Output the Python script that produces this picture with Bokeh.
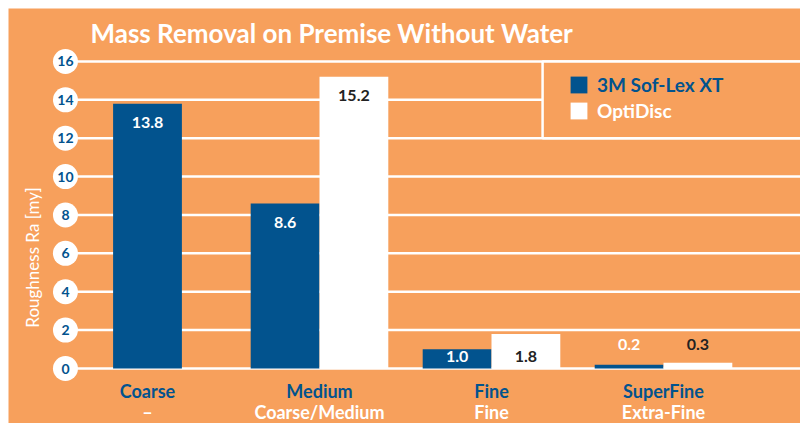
import math
from bokeh.plotting import figure
from bokeh.models import Range1d, Legend, LegendItem, Label, ColumnDataSource
from bokeh.core.properties import value
from bokeh.embed import file_html
from bokeh.resources import INLINE

# ---- data ----
categories = ["Coarse", "Medium", "Fine", "SuperFine"]
sub_labels = ["\u2013", "Coarse/Medium", "Fine", "Extra-Fine"]
soflex = [13.8, 8.6, 1.0, 0.2]
optidisc = [None, 15.2, 1.8, 0.3]
y_ticks = [0, 2, 4, 6, 8, 10, 12, 14, 16]

ORANGE = "#F7A05C"
BLUE = "#02538E"
DARK = "#222222"
FONT = "Lato"

p = figure(width=800, height=423, output_backend="svg", toolbar_location=None,
           x_axis_type=None, y_axis_type=None,
           x_range=Range1d(-0.8081, 3.7965), y_range=Range1d(-2.866, 18.76),
           min_border=0, min_border_left=8, min_border_right=0,
           min_border_top=8, min_border_bottom=0)
p.background_fill_color = ORANGE
p.border_fill_color = "white"
p.outline_line_color = None
p.grid.visible = False

# ---- grid lines ----
p.segment(x0=[-0.419] * len(y_ticks), y0=y_ticks, x1=[3.9] * len(y_ticks), y1=y_ticks,
          line_color="white", line_width=2.5)

# ---- tick bubbles ----
p.scatter(x=[-0.477] * len(y_ticks), y=y_ticks, size=25, marker="circle",
          fill_color="white", line_color=None)
p.text(x=[-0.477] * len(y_ticks), y=y_ticks, text=[str(t) for t in y_ticks],
       text_font=value(FONT), text_font_style="bold", text_font_size="14px",
       text_color=BLUE, text_align="center", text_baseline="middle")

# ---- bars ----
idx = list(range(len(categories)))
sx = [i - 0.2 if optidisc[i] is not None else i for i in idx]
ox = [i + 0.2 for i in idx if optidisc[i] is not None]
ov = [optidisc[i] for i in idx if optidisc[i] is not None]

r_blue = p.vbar(x=sx, top=soflex, bottom=0, width=0.4, fill_color=BLUE, line_color=None)
r_white = p.vbar(x=ox, top=ov, bottom=0, width=0.4, fill_color="white", line_color=None)

# ---- value labels ----
def label_pos(v):
    if v >= 3:
        return v, 19
    if v >= 1:
        return 0, -12
    return 0, -24

for xs, vs, col in ((sx, soflex, "white"), (ox, ov, DARK)):
    ys, offs = zip(*[label_pos(v) for v in vs])
    src = ColumnDataSource(dict(x=xs, y=list(ys), off=list(offs),
                                t=["%.1f" % v for v in vs]))
    p.text(x="x", y="y", text="t", y_offset="off", source=src,
           text_font=value(FONT), text_font_style="bold", text_font_size="16px",
           text_color=col, text_align="center", text_baseline="middle")

# ---- category labels ----
p.text(x=idx, y=[0] * len(idx), text=categories, y_offset=22,
       text_font=value(FONT), text_font_style="bold", text_font_size="18px",
       text_color=BLUE, text_align="center", text_baseline="middle")
p.text(x=idx, y=[0] * len(idx), text=sub_labels, y_offset=43,
       text_font=value(FONT), text_font_style="bold", text_font_size="18px",
       text_color="white", text_align="center", text_baseline="middle")

# ---- legend box ----
p.quad(left=[2.297], right=[4.2], bottom=[12], top=[16],
       fill_color=ORANGE, line_color="white", line_width=2.5)

for item, col, loc in ((LegendItem(label="3M Sof-Lex XT", renderers=[r_blue]), BLUE, (560, 327)),
                       (LegendItem(label="OptiDisc", renderers=[r_white]), "white", (560, 301))):
    lg = Legend(items=[item], location=loc, padding=0, spacing=0,
                glyph_width=21, glyph_height=21, label_height=22, label_standoff=8,
                label_text_font=FONT, label_text_font_style="bold",
                label_text_font_size="19px", label_text_color=col,
                border_line_color=None, background_fill_alpha=0)
    p.add_layout(lg, "center")

# ---- title and axis title ----
p.add_layout(Label(x=82, y=391, x_units="screen", y_units="screen",
                   text="Mass Removal on Premise Without Water",
                   text_font=FONT, text_font_style="bold", text_font_size="26px",
                   text_color="white", text_baseline="middle"))
p.add_layout(Label(x=24, y=166, x_units="screen", y_units="screen",
                   text="Roughness Ra [my]", angle=math.pi / 2,
                   text_font=FONT, text_font_size="17px",
                   text_color="white", text_align="center", text_baseline="middle"))

open("out.html", "w").write(file_html(p, INLINE))
